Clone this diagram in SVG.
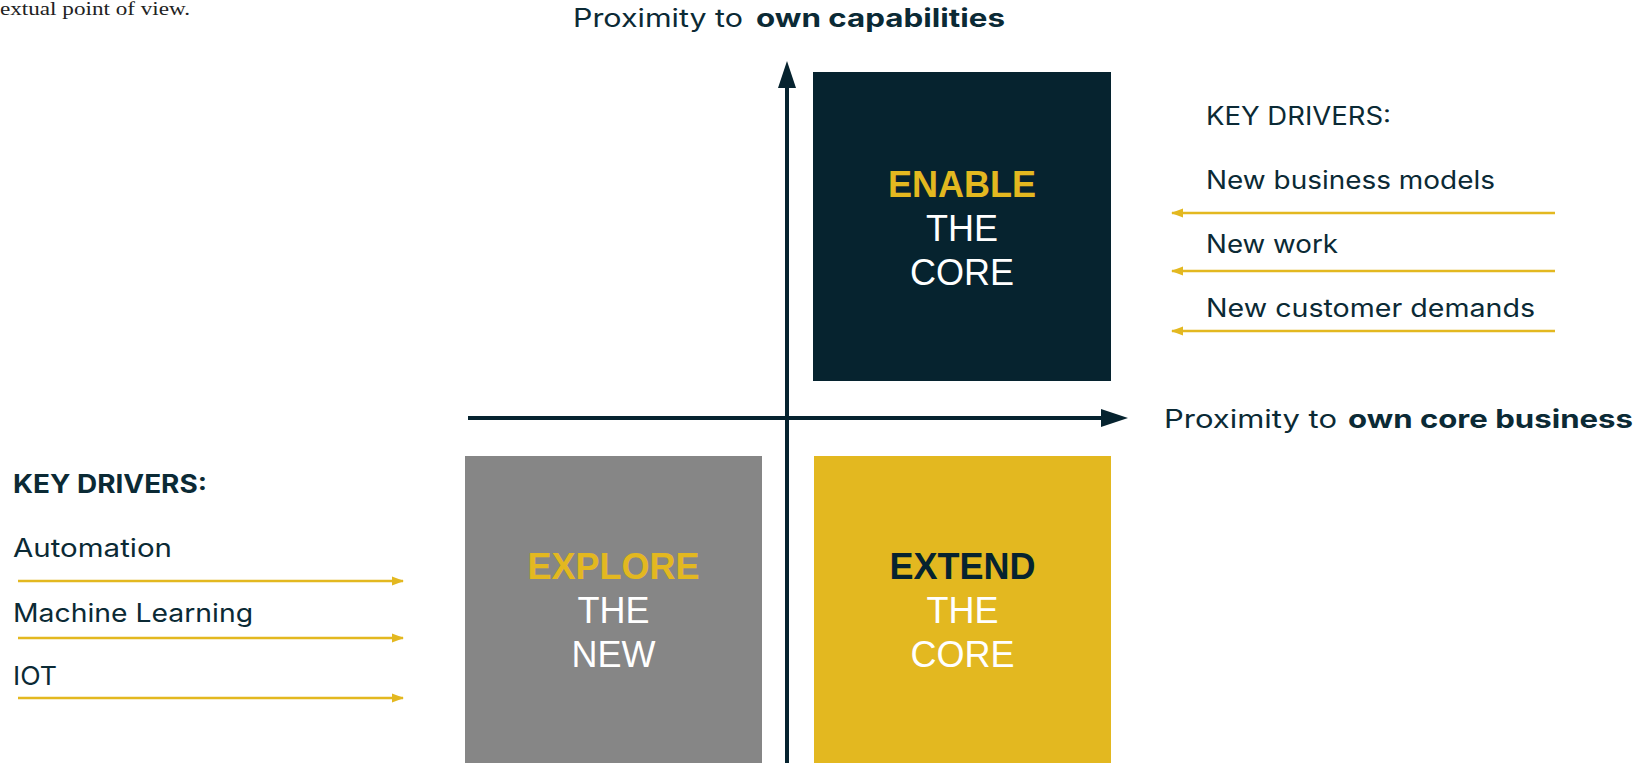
<svg xmlns="http://www.w3.org/2000/svg" width="1648" height="763" viewBox="0 0 1648 763">
<defs>
<style>
.m{font-family:Inter,"Open Sans","Noto Sans",sans-serif;font-size:25px;fill:#0B2A35;}
.b{font-weight:700;}
.box{font-family:"Liberation Sans",Arial,sans-serif;font-size:36px;text-anchor:middle;fill:#FFFFFF;}
.ax{stroke:#06232F;stroke-width:4;fill:none;}
.dr{stroke:#E3B820;stroke-width:2.5;fill:none;}
</style>
<marker id="ya" viewBox="0 0 12 10" refX="11" refY="5" markerUnits="userSpaceOnUse" markerWidth="12" markerHeight="10" orient="auto">
<path d="M0,0.5 L12,5 L0,9.5 Z" fill="#E3B820"/>
</marker>
</defs>
<rect width="1648" height="763" fill="#FFFFFF"/>
<text x="0" y="15" font-family="'Liberation Serif',serif" font-size="19" fill="#222" textLength="190" lengthAdjust="spacingAndGlyphs">extual point of view.</text>

<g id="axis-labels">
<text class="m" x="573" y="27" textLength="170" lengthAdjust="spacingAndGlyphs">Proximity to</text>
<text class="m b" x="756" y="27" textLength="249" lengthAdjust="spacingAndGlyphs">own capabilities</text>
<text class="m" x="1164" y="428" textLength="173" lengthAdjust="spacingAndGlyphs">Proximity to</text>
<text class="m b" x="1348" y="428" textLength="285" lengthAdjust="spacingAndGlyphs">own core business</text>
</g>

<g id="connectors">
<line class="ax" x1="787" y1="763" x2="787" y2="84"/>
<path d="M787,61 L796,88 L778,88 Z" fill="#06232F"/>
<line class="ax" x1="468" y1="418" x2="1104" y2="418"/>
<path d="M1128,418 L1101,409 L1101,427 Z" fill="#06232F"/>
<line class="dr" x1="1555" y1="213" x2="1172" y2="213" marker-end="url(#ya)"/>
<line class="dr" x1="1555" y1="271" x2="1172" y2="271" marker-end="url(#ya)"/>
<line class="dr" x1="1555" y1="331" x2="1172" y2="331" marker-end="url(#ya)"/>
<line class="dr" x1="18" y1="581" x2="403" y2="581" marker-end="url(#ya)"/>
<line class="dr" x1="18" y1="638" x2="403" y2="638" marker-end="url(#ya)"/>
<line class="dr" x1="18" y1="698" x2="403" y2="698" marker-end="url(#ya)"/>
</g>

<g id="enable-the-core">
<rect x="813" y="72" width="298" height="309" fill="#06232F"/>
<text class="box" x="962" y="197" font-weight="700" style="fill:#E3B820">ENABLE</text>
<text class="box" x="962" y="241">THE</text>
<text class="box" x="962" y="285">CORE</text>
</g>

<g id="explore-the-new">
<rect x="465" y="456" width="297" height="307" fill="#868686"/>
<text class="box" x="613.5" y="579" font-weight="700" style="fill:#E3B820">EXPLORE</text>
<text class="box" x="613.5" y="623">THE</text>
<text class="box" x="613.5" y="667">NEW</text>
</g>

<g id="extend-the-core">
<rect x="814" y="456" width="297" height="307" fill="#E3B820"/>
<text class="box" x="962.5" y="579" font-weight="700" style="fill:#06232F">EXTEND</text>
<text class="box" x="962.5" y="623">THE</text>
<text class="box" x="962.5" y="667">CORE</text>
</g>

<g id="key-drivers-right">
<text class="m" x="1206" y="125" textLength="185" lengthAdjust="spacingAndGlyphs">KEY DRIVERS:</text>
<text class="m" x="1206" y="189" textLength="289" lengthAdjust="spacingAndGlyphs">New business models</text>
<text class="m" x="1206" y="253" textLength="132" lengthAdjust="spacingAndGlyphs">New work</text>
<text class="m" x="1206" y="317" textLength="329" lengthAdjust="spacingAndGlyphs">New customer demands</text>
</g>

<g id="key-drivers-left">
<text class="m b" x="13" y="493" textLength="194" lengthAdjust="spacingAndGlyphs">KEY DRIVERS:</text>
<text class="m" x="13" y="557" textLength="159" lengthAdjust="spacingAndGlyphs">Automation</text>
<text class="m" x="13" y="622" textLength="240" lengthAdjust="spacingAndGlyphs">Machine Learning</text>
<text class="m" x="13" y="685" textLength="44" lengthAdjust="spacingAndGlyphs">IOT</text>
</g>
</svg>
